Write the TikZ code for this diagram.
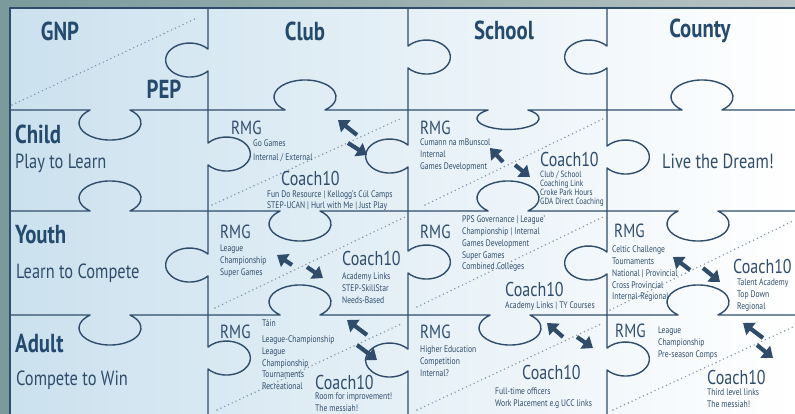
\documentclass[tikz,border=0pt]{standalone}
\usepackage{fontspec}
\setmainfont{PT Sans}[FakeStretch=0.8]
\usepackage{xcolor}
\usetikzlibrary{arrows.meta}
\definecolor{navy}{HTML}{2F4D6B}
\definecolor{headnavy}{HTML}{244A6E}
\definecolor{dotgrey}{HTML}{7F93A8}
\definecolor{bgleft}{HTML}{7A9A9B}
\definecolor{bgright}{HTML}{B8C4C3}
\definecolor{pnlblue}{HTML}{CBE1EE}
\tikzset{seam/.style={draw=navy,line width=1.4pt,line join=round},
  dots/.style={draw=dotgrey,line width=1.6pt,dash pattern=on 0pt off 4.2pt,line cap=round},
  title/.style={text=headnavy,font=\bfseries\fontsize{26}{26}\selectfont,inner sep=0pt},
  sub/.style={text=navy,font=\fontsize{20.5}{20.5}\selectfont,inner sep=0pt,anchor=west},
  rmg/.style={text=navy,font=\fontsize{19}{19}\selectfont,inner sep=0pt,anchor=west},
  coach/.style={text=navy,font=\fontsize{20}{20}\selectfont,inner sep=0pt,anchor=west},
  items/.style={text=navy,font=\fontsize{9.5}{11.7}\selectfont,inner sep=0pt,anchor=north west,align=left},
  flow/.style={draw=navy,line width=4.2pt,-{Triangle[length=10pt,width=15pt]}},
  knobdown/.style={start angle=130,end angle=410,x radius=31pt,y radius=17pt},
  knobup/.style={start angle=230,end angle=-50,x radius=31pt,y radius=17pt},
  knobleft/.style={start angle=40,end angle=320,x radius=24pt,y radius=17pt},
  knobright/.style={start angle=140,end angle=-140,x radius=24pt,y radius=17pt}}

\begin{document}
\begin{tikzpicture}[x=1pt,y=-1pt]
    \useasboundingbox (0,0) rectangle (795,414);
    \shade[left color=bgleft,right color=bgright] (0,0) rectangle (795,414);
    \shade[left color=pnlblue,right color=white] (10,8) rectangle (795,414);

    % dotted splits
    \draw[dots] (12,105) -- (197,18);
    \draw[dots] (212,205) -- (402,118);
    \draw[dots] (425,205) -- (605,118);
    \draw[dots] (215,308) -- (405,217);
    \draw[dots] (417,307) -- (603,217);
    \draw[dots] (610,310) -- (795,220);
    \draw[dots] (217,410) -- (403,323);
    \draw[dots] (417,410) -- (603,323);
    \draw[dots] (613,410) -- (793,327);

    % puzzle seams
    \draw[seam] (10,414) -- (10,8) -- (795,8);
    \draw[seam] (10,110) -- (90.1,110) arc[knobdown] -- (285.1,110) arc[knobup]
        -- (488.1,110) arc[knobdown,y radius=11pt] -- (682.1,110) arc[knobup] -- (795,110);
    \draw[seam] (10,211) -- (90.1,211) arc[knobup] -- (280.1,211) arc[knobdown]
        -- (488.1,211) arc[knobup] -- (678.1,211) arc[knobdown] -- (795,211);
    \draw[seam] (10,315) -- (90.1,315) arc[knobdown] -- (280.1,315) arc[knobup]
        -- (490.1,315) arc[knobdown] -- (678.1,315) arc[knobup] -- (795,315);
    \draw[seam] (208,8) -- (208,49.1) arc[knobleft] -- (208,143.1) arc[knobright]
        -- (208,254.1) arc[knobleft] -- (208,347.1) arc[knobright] -- (208,414);
    \draw[seam] (408,8) -- (408,46.1) arc[knobright] -- (408,145.1) arc[knobleft]
        -- (408,251.1) arc[knobright] -- (408,349.1) arc[knobleft] -- (408,414);
    \draw[seam] (607,8) -- (607,46.1) arc[knobleft] -- (607,146.1) arc[knobright]
        -- (607,252.1) arc[knobleft] -- (607,348.1) arc[knobright] -- (607,414);

    % headings
    \node[title] (gnp) at (60,31) {GNP};
    \node[title] (club) at (305,31) {Club};
    \node[title] (school) at (504,30) {School};
    \node[title] (county) at (700,31) {County};
    \node[title] (pep) at (164,89) {PEP};
    \node[title,anchor=west] (child) at (15,134) {Child};
    \node[sub] (childsub) at (15,163) {Play to Learn};
    \node[title,anchor=west] (youth) at (15,235) {Youth};
    \node[sub] (youthsub) at (16,273) {Learn to Compete};
    \node[title,anchor=west] (adult) at (15,344) {Adult};
    \node[sub] (adultsub) at (16,380) {Compete to Win};
    \node[sub] (dream) at (662,161) {Live the Dream!};

    % club / child
    \node[rmg] (rmg1) at (231,128) {RMG};
    \node[items] (rmg1list) at (253,140) {Go Games\\[1.8pt]Internal / External};
    \node[coach] (coach1) at (281,179) {Coach10};
    \node[items] (coach1list) at (267,190) {Fun Do Resource | Kellogg's Cúl Camps\\STEP-UCAN | Hurl with Me | Just Play};

    % school / child
    \node[rmg] (rmg2) at (420,128) {RMG};
    \node[items] (rmg2list) at (420,139) {Cumann na mBunscol\\Internal\\Games Development};
    \node[coach] (coach2) at (540,160) {Coach10};
    \node[items,font=\fontsize{9}{8.8}\selectfont] (coach2list) at (540,171) {Club / School\\Coaching Link\\Croke Park Hours\\GDA Direct Coaching};

    % club / youth
    \node[rmg] (rmg3) at (220,232) {RMG};
    \node[items] (rmg3list) at (220,245) {League\\Championship\\Super Games};
    \node[coach] (coach3) at (342,258) {Coach10};
    \node[items] (coach3list) at (342,273) {Academy Links\\STEP-SkillStar\\Needs-Based};

    % school / youth
    \node[rmg] (rmg4) at (420,232) {RMG};
    \node[items] (rmg4list) at (462,216) {PPS Governance | League'\\Championship | Internal\\Games Development\\Super Games\\Combined Colleges};
    \node[coach] (coach4) at (505,289) {Coach10};
    \node[items] (coach4list) at (505,302) {Academy Links | TY Courses};

    % county / youth
    \node[rmg] (rmg5) at (614,231) {RMG};
    \node[items] (rmg5list) at (612,246) {Celtic Challenge\\Tournaments\\National | Provincial\\Cross Provincial\\Internal-Regional};
    \node[coach] (coach5) at (733,266) {Coach10};
    \node[items] (coach5list) at (737,279) {Talent Academy\\Top Down\\Regional};

    % club / adult
    \node[rmg] (rmg6) at (220,332) {RMG};
    \node[items] (rmg6list) at (262,319) {Táin\\[5pt]League-Championship\\League\\Championship\\Tournaments\\Recreational};
    \node[coach] (coach6) at (315,382) {Coach10};
    \node[items] (coach6list) at (315,393) {Room for improvement!\\The messiah!};

    % school / adult
    \node[rmg] (rmg7) at (420,332) {RMG};
    \node[items] (rmg7list) at (420,346) {Higher Education\\Competition\\Internal?};
    \node[coach] (coach7) at (522,372) {Coach10};
    \node[items] (coach7list) at (495,388) {Full-time officers\\Work Placement e.g UCC links};

    % county / adult
    \node[rmg] (rmg8) at (615,331) {RMG};
    \node[items] (rmg8list) at (658,327) {League\\Championship\\Pre-season Comps};
    \node[coach] (coach8) at (707,377) {Coach10};
    \node[items] (coach8list) at (707,389) {Third level links\\The messiah!};

    % two-way arrows
    \draw[flow] (357,135) -- (338,120);
    \draw[flow] (348,143) -- (367,155);
    \draw[flow] (503,162) -- (490,148);
    \draw[flow] (515,165) -- (530,177);
    \draw[flow] (292,265) -- (277,255);
    \draw[flow] (307,267) -- (323,278);
    \draw[flow] (690,270) -- (673,257);
    \draw[flow] (703,268) -- (720,282);
    \draw[flow] (367,335) -- (347,320);
    \draw[flow] (357,345) -- (377,360);
    \draw[flow] (563,337) -- (547,323);
    \draw[flow] (577,337) -- (593,348);
    \draw[flow] (763,338) -- (743,323);
    \draw[flow] (757,345) -- (773,358);
\end{tikzpicture}
\end{document}
